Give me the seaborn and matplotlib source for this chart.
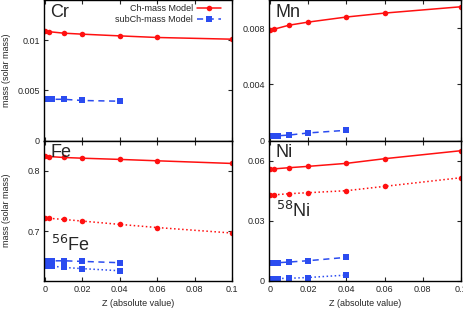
import matplotlib
matplotlib.use("Agg")
import matplotlib.pyplot as plt
import matplotlib.ticker as mticker
import seaborn as sns

# metallicity grid
z_ch = [0, 0.002, 0.01, 0.02, 0.04, 0.06, 0.1]
z_sub = [0, 0.001, 0.002, 0.004, 0.01, 0.02, 0.04]

# Cr
cr_ch = [0.01087, 0.01085, 0.0107, 0.0106, 0.01043, 0.01027, 0.0101]
cr_sub = [0.0041, 0.0041, 0.0041, 0.00412, 0.00412, 0.0040, 0.00393]
# Mn
mn_ch = [0.0079, 0.00792, 0.00821, 0.00843, 0.00879, 0.00907, 0.00952]
mn_sub = [0.0003, 0.00031, 0.00033, 0.00035, 0.0004, 0.00055, 0.00074]
# Fe (total and 56Fe)
fe_ch = [0.8244, 0.8238, 0.8222, 0.821, 0.819, 0.8167, 0.8123]
fe56_ch = [0.722, 0.7215, 0.7195, 0.7168, 0.7113, 0.7061, 0.697]
fe_sub = [0.6508, 0.6508, 0.6508, 0.6509, 0.651, 0.650, 0.6478]
fe56_sub = [0.6425, 0.6425, 0.6424, 0.6422, 0.640, 0.638, 0.6345]
# Ni (total and 58Ni)
ni_ch = [0.05585, 0.0559, 0.0565, 0.05717, 0.05867, 0.061, 0.065]
ni58_ch = [0.04283, 0.0429, 0.0435, 0.044, 0.045, 0.04717, 0.0515]
ni_sub = [0.00883, 0.00885, 0.0089, 0.009, 0.00933, 0.0100, 0.01167]
ni58_sub = [0.0010, 0.0010, 0.0010, 0.0011, 0.0012, 0.0016, 0.0028]

RED = "#ff1010"
BLUE = "#2b4cf0"

sns.set_style("ticks")
plt.rcParams["font.family"] = ["Liberation Sans", "DejaVu Sans"]
plt.rcParams["xtick.direction"] = "in"
plt.rcParams["ytick.direction"] = "in"
plt.rcParams["font.size"] = 7

fig = plt.figure(figsize=(4.63, 3.09), dpi=100)
W, H = 463, 309


def make_ax(x0, y0, x1, y1):
    return fig.add_axes([x0 / W, 1 - y1 / H, (x1 - x0) / W, (y1 - y0) / H])


ax_cr = make_ax(44, 0, 232, 140.7)
ax_mn = make_ax(269, 0, 461, 140.7)
ax_fe = make_ax(44, 140.7, 232, 280.7)
ax_ni = make_ax(269, 140.7, 461, 280.7)


def ch(ax, y, ls="-", label=None):
    sns.lineplot(x=z_ch, y=y, ax=ax, color=RED, linestyle=ls, marker="o",
                 markersize=4, markeredgewidth=0, linewidth=1.1, label=label)


def sub(ax, y, ls=(0, (4, 3)), label=None):
    sns.lineplot(x=z_sub, y=y, ax=ax, color=BLUE, linestyle=ls, marker="s",
                 markersize=4, markeredgewidth=0, linewidth=1.1, label=label)


ch(ax_cr, cr_ch, label="Ch-mass Model")
sub(ax_cr, cr_sub, label="subCh-mass Model")
ch(ax_mn, mn_ch)
sub(ax_mn, mn_sub)
ch(ax_fe, fe_ch)
ch(ax_fe, fe56_ch, ls=":")
sub(ax_fe, fe_sub)
sub(ax_fe, fe56_sub, ls=":")
ch(ax_ni, ni_ch)
ch(ax_ni, ni58_ch, ls=":")
sub(ax_ni, ni_sub)
sub(ax_ni, ni58_sub, ls=":")

ax_cr.legend(loc="upper right", bbox_to_anchor=(0.96, 0.995), frameon=False,
             markerfirst=False, fontsize=6.5, handlelength=2.6,
             borderaxespad=0.0, labelspacing=0.15, handletextpad=0.5)

panels = [
    (ax_cr, "Cr", (0, 0.014), [0, 0.005, 0.01]),
    (ax_mn, "Mn", (0, 0.01), [0, 0.004, 0.008]),
    (ax_fe, "Fe", (0.618, 0.85), [0.7, 0.8]),
    (ax_ni, "Ni", (0, 0.07), [0, 0.03, 0.06]),
]

for ax, name, ylim, yt in panels:
    ax.set_xlim(-0.0005, 0.1)
    ax.set_ylim(*ylim)
    ax.set_xticks([0, 0.02, 0.04, 0.06, 0.08, 0.1])
    ax.set_yticks(yt)
    ax.xaxis.set_major_formatter(mticker.FormatStrFormatter("%g"))
    ax.yaxis.set_major_formatter(mticker.FormatStrFormatter("%g"))
    ax.tick_params(top=True, right=True, length=3, width=0.8, labelsize=6.5, pad=3)
    for s in ax.spines.values():
        s.set_linewidth(1.0)
        s.set_color("black")
    ax.text(0.035, 0.975, name, transform=ax.transAxes, fontsize=13,
            va="top", ha="left")
    ax.set_xlabel("")
    ax.set_ylabel("")

for ax in [ax_cr, ax_mn]:
    ax.tick_params(labelbottom=False)
for ax in [ax_fe, ax_ni]:
    ax.set_xlabel("Z (absolute value)", fontsize=6.5, labelpad=4)
for ax in [ax_cr, ax_fe]:
    ax.set_ylabel("mass (solar mass)", fontsize=6.5)
    ax.yaxis.set_label_coords(-0.175, 0.5)

ax_fe.text(0.035, 0.255, r"$^{56}$Fe", transform=ax_fe.transAxes, fontsize=13,
           va="center", ha="left")
ax_ni.text(0.035, 0.50, r"$^{58}$Ni", transform=ax_ni.transAxes, fontsize=13,
           va="center", ha="left")

fig.savefig("out.png", dpi=100)
